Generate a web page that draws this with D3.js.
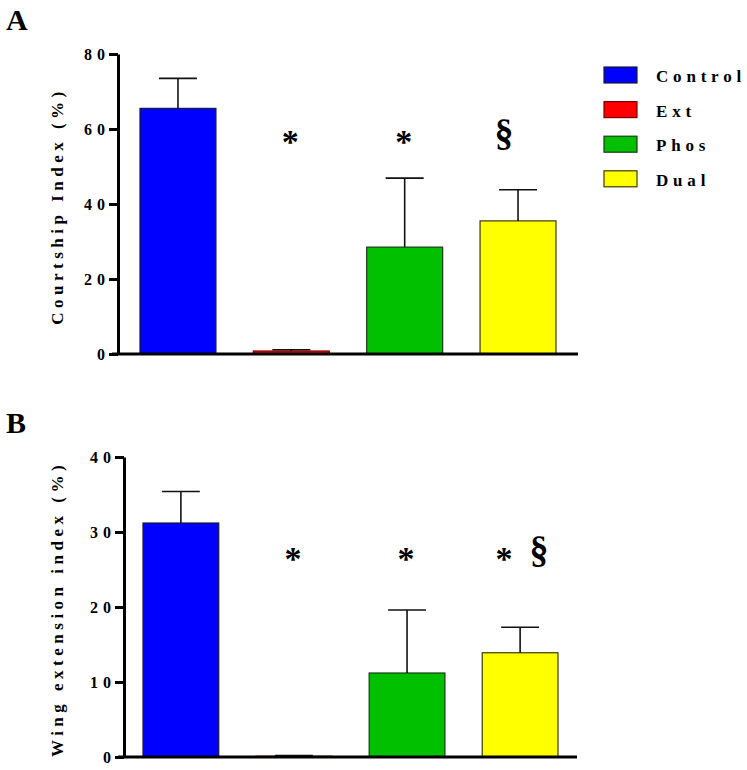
<!DOCTYPE html>
<html><head><meta charset="utf-8">
<script src="https://cdn.jsdelivr.net/npm/d3@7"></script>
<style>body{margin:0;background:#fff}svg{display:block}</style>
</head><body>
<script>
const categories = ["Control", "Ext", "Phos", "Dual"];
const colors = ["#0000ff", "#ff0000", "#00c000", "#ffff00"];
const strokes = ["#1a1a3a", "#7a0000", "#1a3a1a", "#3a3a10"];
const courtship = [65.5, 0.8, 28.5, 35.5];
const courtshipErr = [8.0, 0.35, 18.4, 8.3];
const courtshipMarks = ["", "*", "*", "§"];
const courtshipTicks = [0, 20, 40, 60, 80];
const wing = [31.2, 0.1, 11.2, 13.9];
const wingErr = [4.2, 0.1, 8.4, 3.4];
const wingMarks = ["", "*", "*", "* §"];
const wingTicks = [0, 10, 20, 30, 40];

const W = 747, H = 770;
const svg = d3.select("body").append("svg").attr("width", W).attr("height", H);
const serif = "'Liberation Serif','Times New Roman',serif";

function mark(g, x, y, t) {
  const sect = t === "§";
  g.append("text").attr("x", x).attr("y", sect ? y - 8 : y)
    .attr("text-anchor", "middle").attr("font-family", serif).attr("font-weight", "bold")
    .attr("font-size", sect ? 38 : 34).text(t);
}

function panel(o) {
  const g = svg.append("g");
  const y = d3.scaleLinear().domain([0, o.max]).range([o.y0, o.y1]);
  const x = d3.scaleBand().domain(categories).range([o.ax, o.xr])
    .paddingInner(0.33).paddingOuter(o.pOut);
  g.selectAll("rect.bar").data(categories).join("rect")
    .attr("x", d => x(d)).attr("width", x.bandwidth())
    .attr("y", (d, i) => y(o.vals[i]))
    .attr("height", (d, i) => y(0) - y(o.vals[i]))
    .attr("fill", (d, i) => colors[i]).attr("stroke", (d, i) => strokes[i]).attr("stroke-width", 1.2);
  categories.forEach((d, i) => {
    const cx = x(d) + x.bandwidth() / 2, top = y(o.vals[i] + o.errs[i]);
    g.append("line").attr("x1", cx).attr("x2", cx).attr("y1", y(o.vals[i])).attr("y2", top)
      .attr("stroke", "#111").attr("stroke-width", 1.6);
    g.append("line").attr("x1", cx - x.bandwidth() / 4).attr("x2", cx + x.bandwidth() / 4)
      .attr("y1", top).attr("y2", top).attr("stroke", "#111").attr("stroke-width", 1.6);
  });
  const ya = g.append("g").attr("transform", `translate(${o.ax},0)`)
    .call(d3.axisLeft(y).tickValues(o.ticks).tickSize(9).tickSizeOuter(0));
  ya.select(".domain").attr("stroke", "#000").attr("stroke-width", 3);
  ya.selectAll(".tick line").attr("stroke", "#000").attr("stroke-width", 3);
  ya.selectAll(".tick text").attr("font-family", serif).attr("font-weight", "bold")
    .attr("font-size", 16).attr("fill", "#000").style("letter-spacing", "5px")
    .attr("x", -8).attr("dy", "0.36em");
  g.append("line").attr("x1", o.ax - 6).attr("x2", o.xr).attr("y1", y(0)).attr("y2", y(0))
    .attr("stroke", "#000").attr("stroke-width", 3);
  g.append("text").attr("transform", `translate(63,${(o.y0 + o.y1) / 2 + 2}) rotate(-90)`)
    .attr("text-anchor", "middle").attr("font-family", serif).attr("font-weight", "bold")
    .attr("font-size", 17).style("letter-spacing", "4.5px").text(o.label);
  g.append("text").attr("x", 6).attr("y", o.letterY).attr("font-family", serif)
    .attr("font-weight", "bold").attr("font-size", 30).text(o.letter);
  categories.forEach((d, i) => {
    const m = o.marks[i];
    if (!m) return;
    const cx = x(d) + x.bandwidth() / 2;
    const parts = m.split(" ");
    if (parts.length === 1) {
      mark(g, cx + (m === "§" ? -14 : -1), o.markY, m);
    } else {
      mark(g, cx - 16, o.markY, parts[0]);
      mark(g, cx + 19, o.markY, parts[1]);
    }
  });
}

panel({vals: courtship, errs: courtshipErr, marks: courtshipMarks, ticks: courtshipTicks, max: 80,
  y0: 354, y1: 54, ax: 118, xr: 578, pOut: 0.194, label: "Courtship Index (%)", letter: "A", letterY: 30, markY: 153});
panel({vals: wing, errs: wingErr, marks: wingMarks, ticks: wingTicks, max: 40,
  y0: 757, y1: 457, ax: 124, xr: 577, pOut: 0.168, label: "Wing extension index (%)", letter: "B", letterY: 433, markY: 570});

const lg = svg.append("g");
categories.forEach((c, i) => {
  const yy = 67 + i * 34.6;
  lg.append("rect").attr("x", 604).attr("y", yy).attr("width", 33).attr("height", 16)
    .attr("fill", colors[i]).attr("stroke", strokes[i]).attr("stroke-width", 1.2);
  lg.append("text").attr("x", 656).attr("y", yy + 15).attr("font-family", serif)
    .attr("font-weight", "bold").attr("font-size", 17).style("letter-spacing", "4.8px").text(c);
});
</script>
</body></html>
